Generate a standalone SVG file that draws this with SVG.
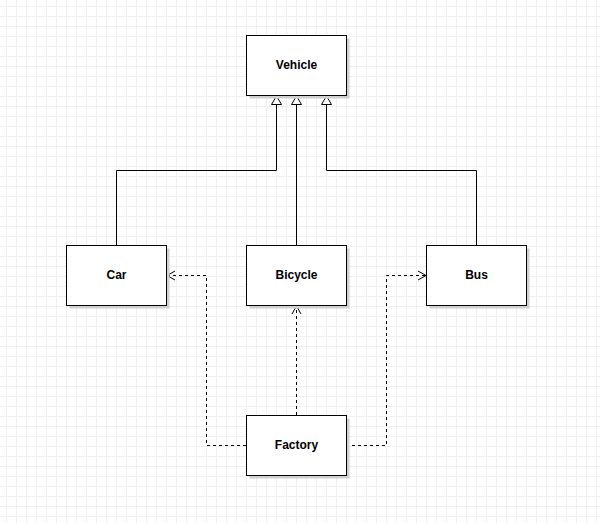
<svg xmlns="http://www.w3.org/2000/svg" width="600" height="523" viewBox="0 0 600 523">
<defs>
<pattern id="grid" x="6" y="6" width="10" height="10" patternUnits="userSpaceOnUse">
<path d="M0.5 0V10M0 0.5H10" fill="none" stroke="#f0f0f0" stroke-width="1"/>
</pattern>
<marker id="tri" viewBox="0 0 12 12" refX="10" refY="6" markerWidth="12" markerHeight="12" markerUnits="userSpaceOnUse" orient="auto">
<path d="M1.5 1L10 6L1.5 11Z" fill="#fff" stroke="#000" stroke-width="1"/>
</marker>
<marker id="open" viewBox="0 0 12 12" refX="10" refY="6" markerWidth="12" markerHeight="12" markerUnits="userSpaceOnUse" orient="auto">
<path d="M2 1.5L10 6L2 10.5" fill="none" stroke="#000" stroke-width="1"/>
</marker>
</defs>
<style>
.shadow{fill:#d0d0d0}
.box{fill:#fff;stroke:#000;stroke-width:1}
.lbl{font-family:"Liberation Sans",Arial,sans-serif;font-size:12px;font-weight:bold;fill:#000;text-anchor:middle}
.gen{fill:none;stroke:#000;stroke-width:1}
.dep{fill:none;stroke:#000;stroke-width:1;stroke-dasharray:3 3}
</style>
<rect width="600" height="523" fill="#fff"/>
<rect width="600" height="523" fill="url(#grid)"/>
<g id="connectors">
<path class="gen" d="M116.5 245V170.5H276.5V96" marker-end="url(#tri)"/>
<path class="gen" d="M296.5 245V96" marker-end="url(#tri)"/>
<path class="gen" d="M476.5 245V170.5H326.5V96" marker-end="url(#tri)"/>
<path class="dep" d="M246 445.5H206.5V275.5H167" marker-end="url(#open)"/>
<path class="dep" d="M296.5 415V306" marker-end="url(#open)"/>
<path class="dep" d="M346 445.5H386.5V275.5H426" marker-end="url(#open)"/>
</g>
<g id="vehicle">
<rect class="shadow" x="249.5" y="38.5" width="100" height="60"/>
<rect class="box" x="246.5" y="35.5" width="100" height="60"/>
<text class="lbl" x="296.5" y="68.5">Vehicle</text>
</g>
<g id="car">
<rect class="shadow" x="69.5" y="248.5" width="100" height="60"/>
<rect class="box" x="66.5" y="245.5" width="100" height="60"/>
<text class="lbl" x="116.5" y="278.5">Car</text>
</g>
<g id="bicycle">
<rect class="shadow" x="249.5" y="248.5" width="100" height="60"/>
<rect class="box" x="246.5" y="245.5" width="100" height="60"/>
<text class="lbl" x="296.5" y="278.5">Bicycle</text>
</g>
<g id="bus">
<rect class="shadow" x="429.5" y="248.5" width="100" height="60"/>
<rect class="box" x="426.5" y="245.5" width="100" height="60"/>
<text class="lbl" x="476.5" y="278.5">Bus</text>
</g>
<g id="factory">
<rect class="shadow" x="249.5" y="418.5" width="100" height="60"/>
<rect class="box" x="246.5" y="415.5" width="100" height="60"/>
<text class="lbl" x="296.5" y="448.5">Factory</text>
</g>
</svg>
